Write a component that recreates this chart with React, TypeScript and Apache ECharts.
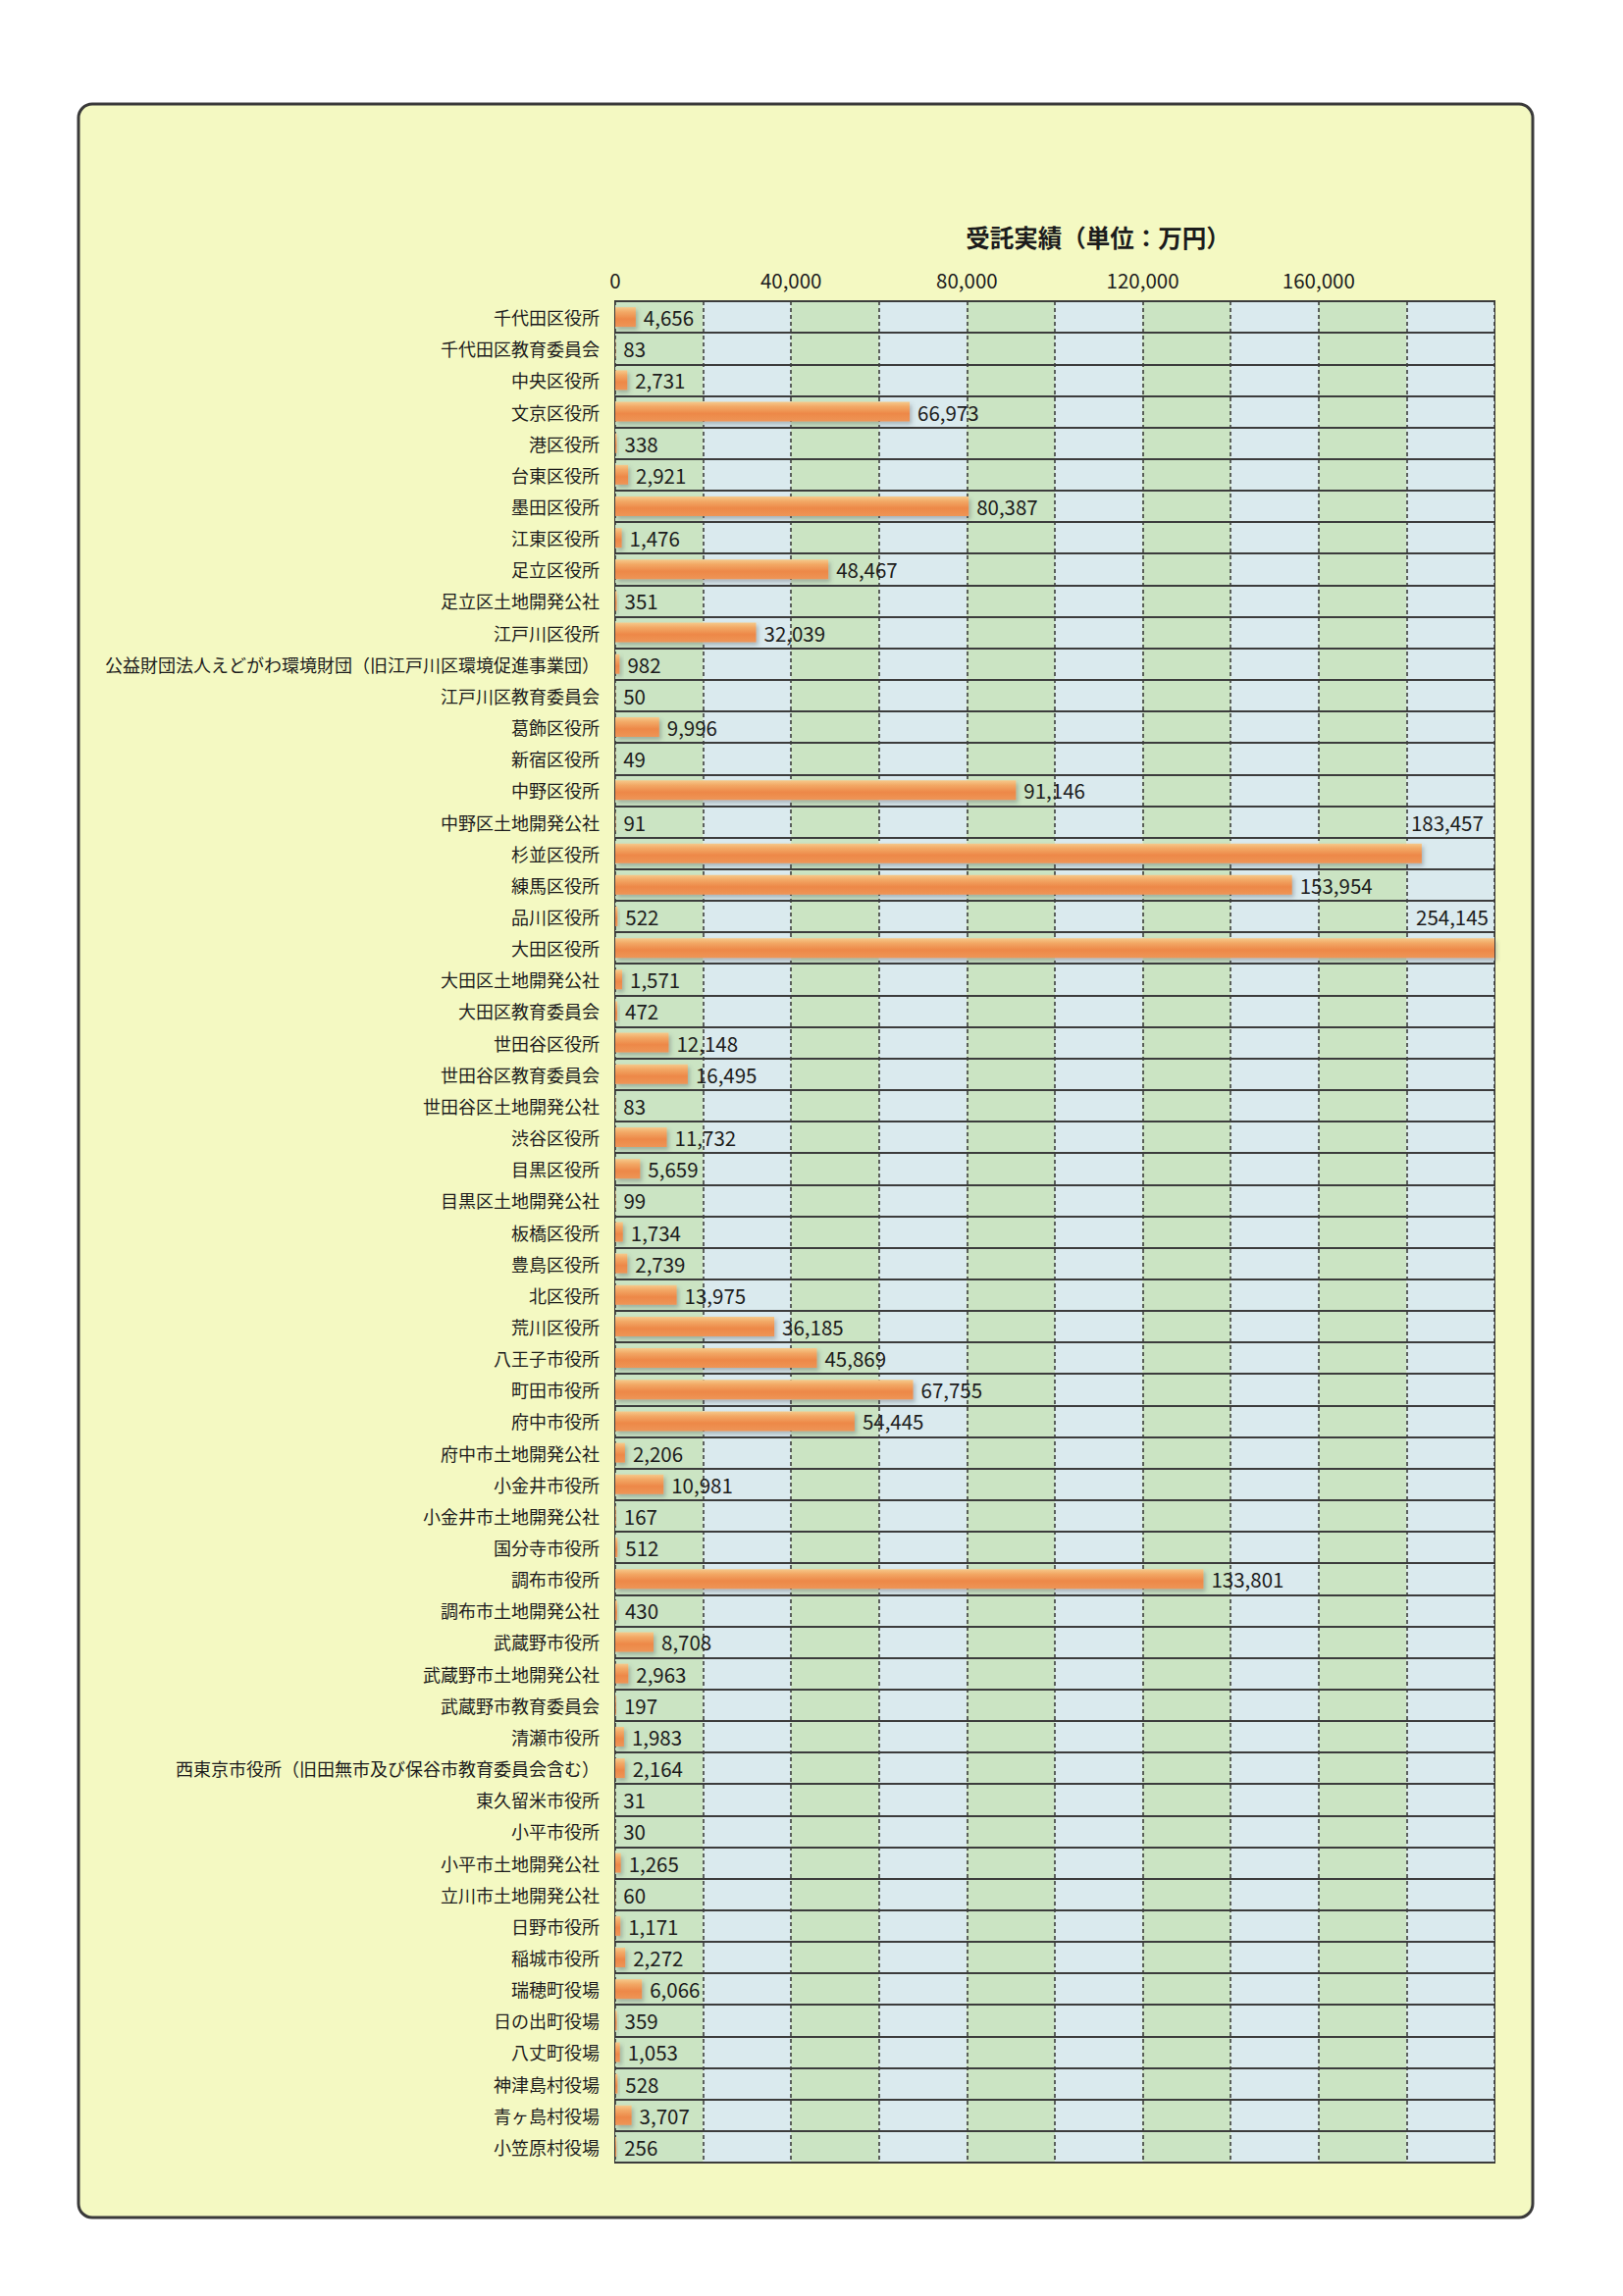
import React, { useEffect, useRef } from "react";
import * as echarts from "echarts";

const chartTitle = "受託実績（単位：万円）";

const categories = [
  "千代田区役所",
  "千代田区教育委員会",
  "中央区役所",
  "文京区役所",
  "港区役所",
  "台東区役所",
  "墨田区役所",
  "江東区役所",
  "足立区役所",
  "足立区土地開発公社",
  "江戸川区役所",
  "公益財団法人えどがわ環境財団（旧江戸川区環境促進事業団）",
  "江戸川区教育委員会",
  "葛飾区役所",
  "新宿区役所",
  "中野区役所",
  "中野区土地開発公社",
  "杉並区役所",
  "練馬区役所",
  "品川区役所",
  "大田区役所",
  "大田区土地開発公社",
  "大田区教育委員会",
  "世田谷区役所",
  "世田谷区教育委員会",
  "世田谷区土地開発公社",
  "渋谷区役所",
  "目黒区役所",
  "目黒区土地開発公社",
  "板橋区役所",
  "豊島区役所",
  "北区役所",
  "荒川区役所",
  "八王子市役所",
  "町田市役所",
  "府中市役所",
  "府中市土地開発公社",
  "小金井市役所",
  "小金井市土地開発公社",
  "国分寺市役所",
  "調布市役所",
  "調布市土地開発公社",
  "武蔵野市役所",
  "武蔵野市土地開発公社",
  "武蔵野市教育委員会",
  "清瀬市役所",
  "西東京市役所（旧田無市及び保谷市教育委員会含む）",
  "東久留米市役所",
  "小平市役所",
  "小平市土地開発公社",
  "立川市土地開発公社",
  "日野市役所",
  "稲城市役所",
  "瑞穂町役場",
  "日の出町役場",
  "八丈町役場",
  "神津島村役場",
  "青ヶ島村役場",
  "小笠原村役場",
];

const values = [
  4656, 83, 2731, 66973, 338, 2921, 80387, 1476, 48467, 351,
  32039, 982, 50, 9996, 49, 91146, 91, 183457, 153954, 522,
  254145, 1571, 472, 12148, 16495, 83, 11732, 5659, 99, 1734,
  2739, 13975, 36185, 45869, 67755, 54445, 2206, 10981, 167, 512,
  133801, 430, 8708, 2963, 197, 1983, 2164, 31, 30, 1265,
  60, 1171, 2272, 6066, 359, 1053, 528, 3707, 256,
];

// axis settings
const axisMin = 0;
const axisMax = 200000;
const gridStep = 20000;
const labelStep = 40000;

// categories whose value label is printed one row higher (as in the original)
const raisedLabelOutside = ["杉並区役所"];
const raisedLabelInside = ["大田区役所"];

const FONT = '"Noto Sans CJK JP", "Noto Sans", sans-serif';
const TEXT = "#1c1c1c";

const fmt = (v: number) => v.toLocaleString("en-US");

export default function App() {
  const ref = useRef<HTMLDivElement>(null);

  useEffect(() => {
    if (!ref.current) return;
    const chart = echarts.init(ref.current, null, { renderer: "svg" });

    const gridLeft = 627;
    const gridTop = 307;
    const gridWidth = 896;
    const gridHeight = 1897;
    const rowH = gridHeight / categories.length;

    const barGradient = new echarts.graphic.LinearGradient(0, 0, 0, 1, [
      { offset: 0, color: "#F6C98A" },
      { offset: 0.25, color: "#F2A865" },
      { offset: 0.6, color: "#ED8848" },
      { offset: 1, color: "#EE9556" },
    ]);

    const barData = values.map((v, i) => {
      const name = categories[i];
      if (raisedLabelOutside.includes(name)) {
        return {
          value: v,
          label: { position: "right", distance: 8, offset: [-19, -rowH] },
        };
      }
      if (raisedLabelInside.includes(name)) {
        return {
          value: v,
          label: { position: "insideRight", distance: 6, offset: [0, -rowH] },
        };
      }
      return v;
    });

    const option: any = {
      animation: false,
      backgroundColor: "#ffffff",
      title: {
        text: chartTitle,
        left: 1114,
        top: 224,
        textAlign: "center",
        textStyle: {
          fontFamily: FONT,
          fontSize: 24.5,
          fontWeight: 600,
          color: TEXT,
        },
      },
      graphic: [
        {
          type: "rect",
          z: -100,
          silent: true,
          shape: { x: 80, y: 106, width: 1482, height: 2154, r: 14 },
          style: { fill: "#F4F9C2", stroke: "#3a3a3a", lineWidth: 3 },
        },
      ],
      grid: {
        left: gridLeft,
        top: gridTop,
        width: gridWidth,
        height: gridHeight,
        show: true,
        borderColor: "#333333",
        borderWidth: 2,
        backgroundColor: "transparent",
        containLabel: false,
      },
      xAxis: {
        type: "value",
        position: "top",
        z: 0,
        min: axisMin,
        max: axisMax,
        interval: gridStep,
        axisLine: { show: false },
        axisTick: { show: false },
        axisLabel: {
          margin: 12,
          fontFamily: FONT,
          fontSize: 20.5,
          color: TEXT,
          formatter: (v: number) =>
            v % labelStep === 0 && v < axisMax ? fmt(v) : "",
        },
        splitLine: {
          show: true,
          lineStyle: { color: "#333333", width: 1.5, type: [4, 3] },
        },
        splitArea: {
          show: true,
          areaStyle: { color: ["#CBE4C3", "#DAEAEE"] },
        },
      },
      yAxis: {
        type: "category",
        inverse: true,
        z: 1,
        data: categories,
        axisLine: { show: false },
        axisTick: { show: false },
        axisLabel: {
          margin: 16,
          fontFamily: FONT,
          fontSize: 18,
          color: TEXT,
          interval: 0,
        },
        splitLine: {
          show: true,
          interval: 0,
          lineStyle: { color: "#3c3c3c", width: 2 },
        },
      },
      series: [
        {
          type: "bar",
          z: 2,
          data: barData,
          barWidth: 20,
          clip: true,
          itemStyle: {
            color: barGradient,
            shadowColor: "rgba(70,80,90,0.35)",
            shadowBlur: 4,
            shadowOffsetX: 2,
            shadowOffsetY: 3,
          },
          label: {
            show: true,
            position: "right",
            distance: 8,
            fontFamily: FONT,
            fontSize: 20.5,
            color: TEXT,
            formatter: (p: any) => fmt(p.value),
          },
        },
      ],
    };

    chart.setOption(option);
    return () => chart.dispose();
  }, []);

  return (
    <div
      ref={ref}
      style={{ position: "absolute", left: 0, top: 0, width: 1654, height: 2340 }}
    />
  );
}
